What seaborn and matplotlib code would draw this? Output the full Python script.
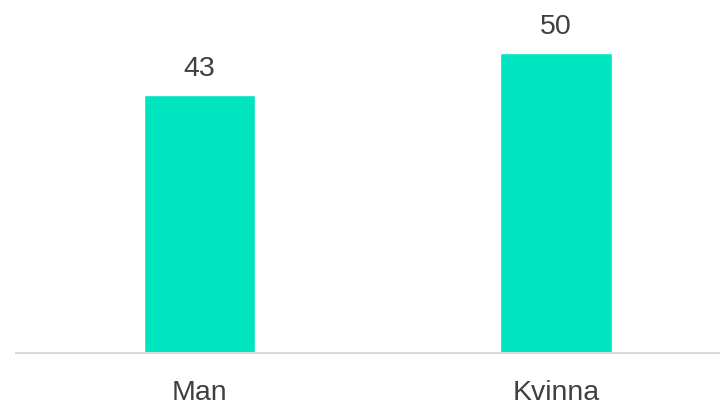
import matplotlib
matplotlib.use("Agg")
import matplotlib.pyplot as plt
import pandas as pd
import seaborn as sns

categories = ["Man", "Kvinna"]
values = [43, 50]

sns.set_style("white")
plt.rcParams["font.family"] = ["Liberation Sans", "DejaVu Sans"]

df = pd.DataFrame({"kon": categories, "andel": values})

fig = plt.figure(figsize=(7.2, 4.06), dpi=100)
ax = fig.add_axes([16 / 720, 52 / 406, 1 - 16 / 720, 354 / 406])
sns.barplot(df, x="kon", y="andel", color="#00E5BF", saturation=1,
            width=0.313, ax=ax)
ax.set_xlim(-0.516, 1.461)
ax.set_ylim(0, 59)

for i, v in enumerate(values):
    ax.annotate(f"{v}", (i, v), xytext=(0, 10), textcoords="offset points",
                ha="center", va="bottom", fontsize=20.5, color="#404040")

ax.set_xlabel("")
ax.set_ylabel("")
ax.set_yticks([])
ax.tick_params(axis="x", length=0, pad=19, labelsize=20.5, labelcolor="#404040")
for s in ["top", "left", "right"]:
    ax.spines[s].set_visible(False)
ax.spines["bottom"].set_color("#d9d9d9")
ax.spines["bottom"].set_linewidth(1.5)

fig.savefig("out.png", dpi=100)
